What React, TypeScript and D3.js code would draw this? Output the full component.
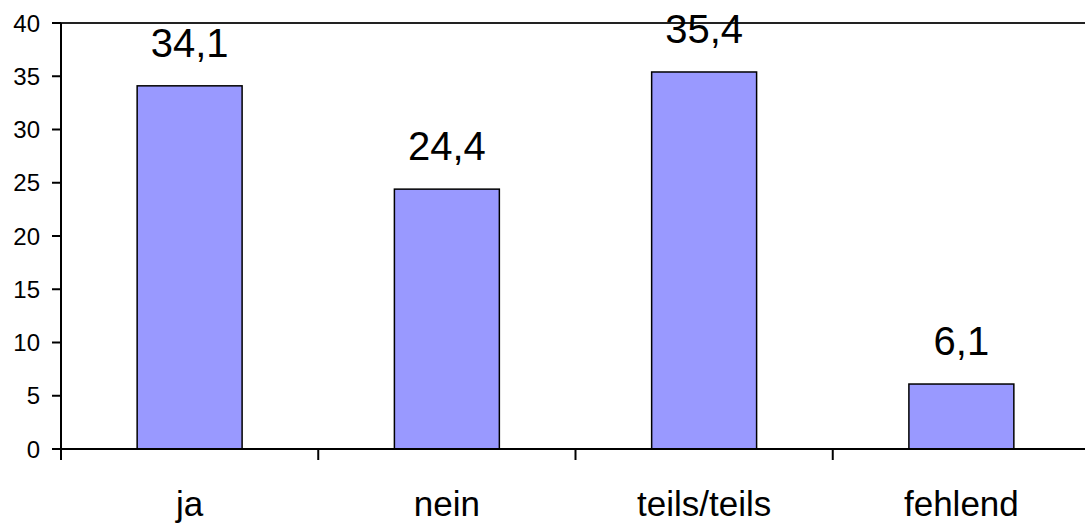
import React from "react";
import * as d3 from "d3";

const categories = ["ja", "nein", "teils/teils", "fehlend"];
const values = [34.1, 24.4, 35.4, 6.1];
const yTicks = [0, 5, 10, 15, 20, 25, 30, 35, 40];

const W = 1085;
const H = 525;
const left = 61;
const right = 1090;
const top = 23;
const bottom = 449;

const locale = d3.formatLocale({ decimal: ",", thousands: ".", grouping: [3], currency: ["", "€"] });
const fmt = locale.format(".1f");

export default function App() {
  const x = d3.scaleBand<string>().domain(categories).range([left, right]).padding(0);
  const y = d3.scaleLinear().domain([0, 40]).range([bottom, top]);
  const bw = x.bandwidth() * 0.408;
  const font = "'Liberation Sans', Arial, sans-serif";
  const boundaries = categories.map((c) => x(c)!);

  return (
    <svg width={W} height={H} style={{ position: "absolute", left: 0, top: 0, background: "#fff" }} fontFamily={font}>
      <line x1={left} x2={right} y1={y(40)} y2={y(40)} stroke="#222" strokeWidth={2} />
      {categories.map((c, i) => {
        const cx = x(c)! + x.bandwidth() / 2;
        return (
          <g key={c}>
            <rect
              x={cx - bw / 2}
              y={y(values[i])}
              width={bw}
              height={y(0) - y(values[i])}
              fill="#9999FF"
              stroke="#000"
              strokeWidth={1.5}
            />
            <text x={cx} y={y(values[i]) - 29} textAnchor="middle" fontSize={40} fill="#000">
              {fmt(values[i])}
            </text>
            <text x={cx} y={516} textAnchor="middle" fontSize={35} fill="#000">
              {c}
            </text>
          </g>
        );
      })}
      <line x1={left} x2={left} y1={y(40)} y2={y(0) + 11} stroke="#000" strokeWidth={2} />
      {yTicks.map((t) => (
        <g key={t}>
          <line x1={left - 9} x2={left} y1={y(t)} y2={y(t)} stroke="#000" strokeWidth={2} />
          <text x={40} y={y(t)} dy="0.36em" textAnchor="end" fontSize={24} fill="#000">
            {t}
          </text>
        </g>
      ))}
      <line x1={left} x2={right} y1={y(0)} y2={y(0)} stroke="#000" strokeWidth={2} />
      {boundaries.map((b, i) => (
        <line key={i} x1={b} x2={b} y1={y(0)} y2={y(0) + 11} stroke="#000" strokeWidth={2} />
      ))}
    </svg>
  );
}
